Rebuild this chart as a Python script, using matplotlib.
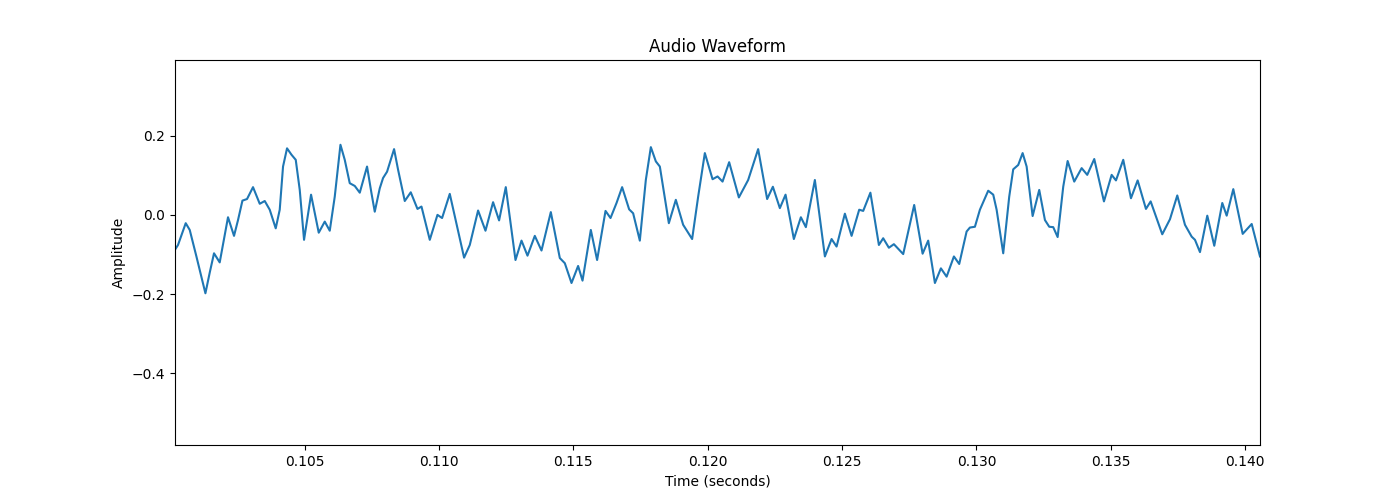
import numpy as np
import matplotlib
matplotlib.use("Agg")
import matplotlib.pyplot as plt

# waveform (time in ms, amplitude)
time_ms = [
    100.171, 100.283, 100.570, 100.719, 100.968, 101.303, 101.463, 101.623, 101.835, 102.144,
    102.368, 102.517, 102.681, 102.852, 103.075, 103.325, 103.511, 103.697, 103.920, 104.069,
    104.192, 104.341, 104.505, 104.665, 104.814, 104.974, 105.235, 105.521, 105.745, 105.931,
    106.117, 106.329, 106.489, 106.675, 106.862, 107.048, 107.319, 107.483, 107.606, 107.792,
    107.915, 108.064, 108.325, 108.474, 108.723, 108.946, 109.196, 109.345, 109.654, 109.940,
    110.112, 110.398, 110.931, 111.143, 111.452, 111.727, 112.010, 112.234, 112.483, 112.844,
    113.068, 113.291, 113.563, 113.812, 114.159, 114.494, 114.680, 114.929, 115.175, 115.339,
    115.648, 115.882, 116.195, 116.381, 116.605, 116.813, 117.074, 117.223, 117.472, 117.695,
    117.882, 118.068, 118.217, 118.552, 118.812, 119.084, 119.419, 119.643, 119.892, 120.179,
    120.365, 120.551, 120.797, 121.158, 121.504, 121.876, 122.211, 122.424, 122.684, 122.896,
    123.205, 123.466, 123.652, 123.987, 124.360, 124.609, 124.795, 125.104, 125.354, 125.637,
    125.786, 126.054, 126.370, 126.530, 126.742, 126.928, 127.275, 127.684, 127.997, 128.205,
    128.455, 128.678, 128.891, 129.162, 129.360, 129.635, 129.758, 129.944, 130.130, 130.439,
    130.626, 130.752, 130.998, 131.221, 131.370, 131.556, 131.720, 131.869, 132.092, 132.338,
    132.550, 132.710, 132.859, 133.023, 133.231, 133.395, 133.641, 133.917, 134.125, 134.386,
    134.747, 135.033, 135.194, 135.465, 135.752, 136.001, 136.310, 136.485, 136.917, 137.204,
    137.476, 137.762, 138.012, 138.135, 138.321, 138.593, 138.853, 139.151, 139.315, 139.561,
    139.911, 140.246, 140.555,
]
amplitude = [
    -0.088, -0.076, -0.021, -0.038, -0.105, -0.198, -0.146, -0.097, -0.120, -0.006,
    -0.053, -0.013, 0.036, 0.040, 0.070, 0.028, 0.035, 0.013, -0.034, 0.013,
    0.122, 0.168, 0.152, 0.139, 0.063, -0.063, 0.051, -0.045, -0.017, -0.040,
    0.046, 0.177, 0.139, 0.080, 0.073, 0.056, 0.122, 0.055, 0.008, 0.067,
    0.093, 0.109, 0.166, 0.114, 0.035, 0.057, 0.015, 0.021, -0.063, 0.000,
    -0.008, 0.053, -0.108, -0.076, 0.011, -0.040, 0.032, -0.014, 0.070, -0.114,
    -0.065, -0.103, -0.053, -0.090, 0.007, -0.109, -0.122, -0.172, -0.129, -0.166,
    -0.038, -0.114, 0.010, -0.008, 0.030, 0.070, 0.014, 0.004, -0.065, 0.088,
    0.171, 0.135, 0.122, -0.021, 0.038, -0.025, -0.061, 0.046, 0.156, 0.090,
    0.097, 0.084, 0.133, 0.044, 0.088, 0.166, 0.040, 0.071, 0.017, 0.051,
    -0.061, -0.006, -0.031, 0.088, -0.105, -0.061, -0.080, 0.003, -0.053, 0.013,
    0.010, 0.056, -0.076, -0.059, -0.083, -0.074, -0.099, 0.025, -0.098, -0.065,
    -0.172, -0.135, -0.156, -0.105, -0.124, -0.042, -0.032, -0.030, 0.013, 0.061,
    0.051, 0.013, -0.097, 0.046, 0.115, 0.126, 0.156, 0.122, -0.003, 0.063,
    -0.013, -0.030, -0.031, -0.056, 0.071, 0.136, 0.084, 0.118, 0.101, 0.141,
    0.034, 0.101, 0.087, 0.139, 0.042, 0.087, 0.015, 0.034, -0.049, -0.011,
    0.049, -0.025, -0.055, -0.063, -0.094, -0.002, -0.078, 0.030, -0.002, 0.065,
    -0.048, -0.023, -0.105,
]

t = np.array(time_ms) / 1000.0

plt.figure(figsize=(14, 5), dpi=100)
plt.plot(t, amplitude)
plt.xlim(t[0], t[-1])
plt.ylim(-0.581, 0.391)
plt.title('Audio Waveform')
plt.xlabel('Time (seconds)')
plt.ylabel('Amplitude')
plt.savefig('out.png')
